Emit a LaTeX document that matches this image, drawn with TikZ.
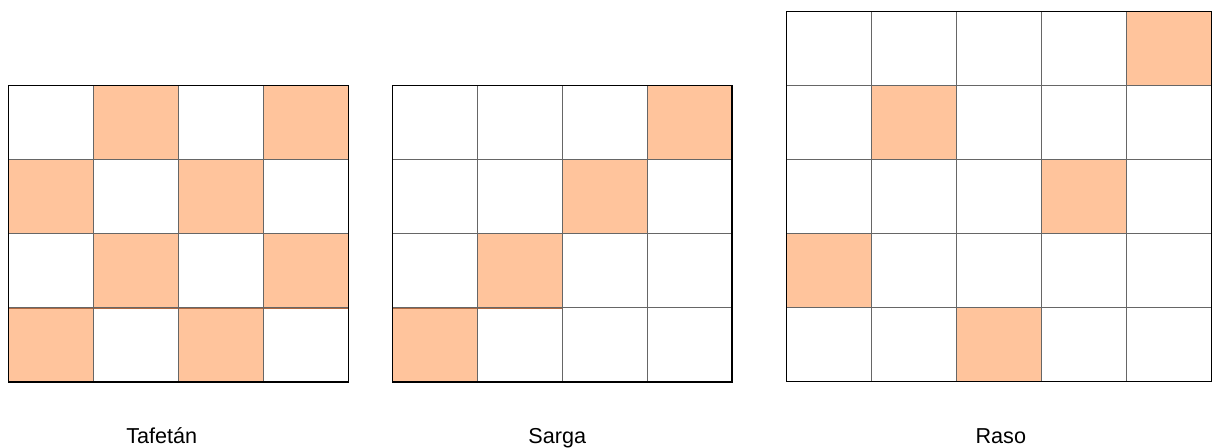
\documentclass[tikz,border=0pt]{standalone}
\usepackage{fontspec}
\setmainfont{Liberation Sans}
\usepackage{tikz}
\usetikzlibrary{positioning}
\definecolor{weftorange}{RGB}{255,196,156}
\definecolor{weftedge}{RGB}{175,105,65}

\begin{document}
\begin{tikzpicture}[x=0.5pt, y=-0.5pt, every node/.style={font=\fontsize{10.8}{13}\selectfont},
      cell/.style={fill=weftorange, draw=weftedge, line width=0.3pt},
      inner/.style={draw=black!60, line width=0.4pt},
      frame/.style={draw=black, line width=0.7pt},
      lbl/.style={inner sep=0pt, anchor=base}]
    \useasboundingbox (0,0) rectangle (1216,448);
    % Tafetan
    \begin{scope}[shift={(8.5,85.3)}, x=42.52pt, y=-37.1pt]
      \foreach \c/\r in {1/0,3/0,0/1,2/1,1/2,3/2,0/3,2/3}
        \draw[cell] (\c,\r) rectangle ++(1,1);
      \foreach \k in {1,2,3} {
        \draw[inner] (\k,0) -- (\k,4);
        \draw[inner] (0,\k) -- (4,\k);
      }
      \draw[frame] (0,0) rectangle (4,4);
    \end{scope}
    % Sarga
    \begin{scope}[shift={(392.3,85.3)}, x=42.47pt, y=-37.1pt]
      \foreach \c/\r in {3/0,2/1,1/2,0/3}
        \draw[cell] (\c,\r) rectangle ++(1,1);
      \foreach \k in {1,2,3} {
        \draw[inner] (\k,0) -- (\k,4);
        \draw[inner] (0,\k) -- (4,\k);
      }
      \draw[frame] (0,0) rectangle (4,4);
    \end{scope}
    % Raso
    \begin{scope}[shift={(786.7,11.3)}, x=42.5pt, y=-37.04pt]
      \foreach \c/\r in {4/0,1/1,3/2,0/3,2/4}
        \draw[cell] (\c,\r) rectangle ++(1,1);
      \foreach \k in {1,2,3,4} {
        \draw[inner] (\k,0) -- (\k,5);
        \draw[inner] (0,\k) -- (5,\k);
      }
      \draw[frame] (0,0) rectangle (5,5);
    \end{scope}
    \node[lbl] (tafetan) at (161.7,443.3) {Tafetán};
    \node[lbl] (sarga) at (557.3,443.3) {Sarga};
    \node[lbl] (raso) at (1000.8,443.3) {Raso};
  \end{tikzpicture}
\end{document}
